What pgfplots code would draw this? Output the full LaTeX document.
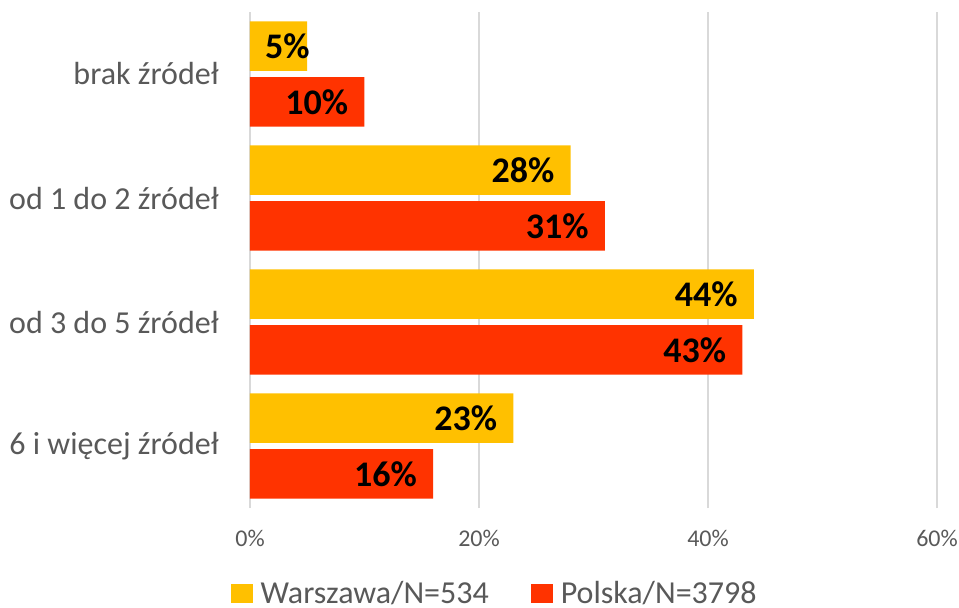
\documentclass[border=0pt]{standalone}
\usepackage{fontspec}
\setmainfont{Carlito}
\usepackage{pgfplots}
\pgfplotsset{compat=1.18}
\definecolor{warsaw}{HTML}{FFC000}
\definecolor{polska}{HTML}{FF3300}
\definecolor{gridgray}{HTML}{D9D9D9}
\definecolor{txtgray}{HTML}{595959}
\begin{document}
\begin{tikzpicture}
\begin{axis}[
  at={(0pt,-1.5pt)}, anchor=south west,
  scale only axis, width=515.25pt, height=372pt,
  xbar, bar width=0.40,
  xmin=0, xmax=60, ymin=-0.5, ymax=3.5,
  xtick={0,20,40,60},
  xticklabel={\pgfmathprintnumber{\tick}\%},
  /pgf/number format/assume math mode=true,
  ytick={0,1,2,3},
  yticklabels={6 i więcej źródeł, od 3 do 5 źródeł, od 1 do 2 źródeł, brak źródeł},
  xmajorgrids, major grid style={gridgray, line width=1.1pt},
  axis line style={draw=none}, tick style={draw=none},
  xticklabel style={font=\fontsize{18}{18}\selectfont, text=txtgray, anchor=center, inner sep=0pt, yshift=-22.5pt},
  yticklabel style={font=\fontsize{24}{24}\selectfont, text=txtgray, anchor=east, inner sep=0pt, xshift=-19pt},
  nodes near coords={\pgfmathprintnumber{\pgfplotspointmeta}\%},
  every node near coord/.append style={font=\fontsize{27}{27}\selectfont\bfseries, text=black, anchor=east, inner sep=0pt, xshift=-12pt},
  coordinate style/.condition={x<6}{xshift=14pt},
  legend columns=2,
  legend style={draw=none, fill=none, at={(0.357,-0.172)}, anchor=center,
    font=\fontsize{24}{24}\selectfont, text=txtgray,
    /tikz/every even column/.append style={column sep=30pt}},
]
\addplot[fill=warsaw, draw=none, bar shift=0.225,
  legend image code/.code={\fill[warsaw] (0pt,-7.5pt) rectangle (16.5pt,7pt); \path (20pt,0pt);}]
  coordinates {(23,0) (44,1) (28,2) (5,3)};
\addlegendentry{Warszawa/N=534}
\addplot[fill=polska, draw=none, bar shift=-0.225,
  legend image code/.code={\fill[polska] (0pt,-7.5pt) rectangle (16.5pt,7pt); \path (20pt,0pt);}]
  coordinates {(16,0) (43,1) (31,2) (10,3)};
\addlegendentry{Polska/N=3798}
\end{axis}
\pgfresetboundingbox
\useasboundingbox (-187.5pt,-75.75pt) rectangle (531.75pt,379.5pt);
\end{tikzpicture}
\end{document}
